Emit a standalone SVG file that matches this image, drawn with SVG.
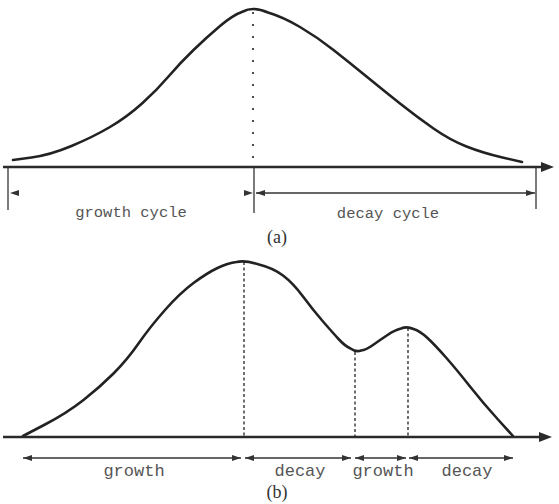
<svg xmlns="http://www.w3.org/2000/svg" width="559" height="504" viewBox="0 0 559 504">
<style>
.curve{fill:none;stroke:#222;stroke-width:2.6;stroke-linecap:round;stroke-linejoin:round}
.axis{fill:none;stroke:#2a2a2a;stroke-width:2.6}
.tick{fill:none;stroke:#333;stroke-width:1.3}
.dim{fill:none;stroke:#333;stroke-width:1.3;marker-start:url(#dh);marker-end:url(#dh)}
.dimbare{fill:none;stroke:none;marker-start:url(#dh);marker-end:url(#dh)}
.dotA{fill:none;stroke:#222;stroke-width:1.6;stroke-dasharray:2 10}
.dotB{fill:none;stroke:#222;stroke-width:1.3;stroke-dasharray:3 2.5}
.lbl{font-family:"Liberation Mono","DejaVu Sans Mono",monospace;fill:#555;text-anchor:middle}
.cap{font-family:"Liberation Serif","DejaVu Serif",serif;fill:#333;font-size:18px;text-anchor:middle}
</style>
<defs>
<marker id="dh" viewBox="0 0 9 6" refX="9" refY="3" markerWidth="9" markerHeight="6" markerUnits="userSpaceOnUse" orient="auto-start-reverse">
<path d="M0,0 L9,3 L0,6 z" fill="#333"/>
</marker>
<marker id="ah" viewBox="0 0 13 10" refX="1" refY="5" markerWidth="13" markerHeight="10" markerUnits="userSpaceOnUse" orient="auto">
<path d="M0,0 L13,5 L0,10 z" fill="#2a2a2a"/>
</marker>
</defs>

<g id="panel-a">
<g id="curve-a">
<path class="curve" d="M13,160 L31.5,157.5 Q50,155 71.5,146 Q93,137 110,127 Q127,117 142,103.5 Q157,90 168.5,76.5 Q180,63 193.5,50 Q207,37 220,26 Q233,15 243,11.5 Q253,6 268,12.5 Q283,17 300,27 Q317,37 333.5,50 Q350,63 366.5,76.5 Q383,90 400,103.5 Q417,117 433.5,128.5 Q450,140 466.5,146.5 Q483,153 502.5,157.5 L522,162"/>
</g>
<g id="connectors-a">
<line class="axis" x1="3" y1="167" x2="542" y2="167" marker-end="url(#ah)"/>
<line class="dotA" x1="253" y1="12" x2="253" y2="166"/>
<line class="tick" x1="8" y1="167" x2="8" y2="210"/>
<line class="tick" x1="254" y1="167" x2="254" y2="213"/>
<line class="tick" x1="536" y1="167" x2="536" y2="209"/>
<line class="dimbare" x1="10" y1="193" x2="253" y2="193"/>
<line class="dim" x1="256" y1="193" x2="535" y2="193"/>
</g>
<g id="labels-a">
<text class="lbl" x="131" y="217" font-size="15.5">growth cycle</text>
<text class="lbl" x="388" y="218" font-size="15.5">decay cycle</text>
<text class="cap" x="277" y="243">(a)</text>
</g>
</g>

<g id="panel-b">
<g id="curve-b">
<path class="curve" d="M23,436 L45,424.5 Q67,413 83.5,400 Q100,387 113.5,373.5 Q127,360 138.5,343.5 Q150,327 165,310 Q180,293 193.5,283 Q207,273 217.5,268 Q228,263 236.5,262 Q245,260 259,264.5 Q273,268 283,275.5 Q293,283 303,296.5 Q313,310 323,321.5 Q333,333 339,339.5 Q345,346 350.5,348.5 Q356,352.5 361,350.5 Q366,350 373,345 Q380,340 387.5,335 Q395,330 401,328.5 Q407,326 413.5,329 Q420,331 427.5,338 Q435,345 446,357.5 Q457,370 470,386.5 Q483,403 498,419.5 L513,436"/>
</g>
<g id="connectors-b">
<line class="axis" x1="3" y1="437" x2="540" y2="437" marker-end="url(#ah)"/>
<line class="dotB" x1="244" y1="262" x2="244" y2="436"/>
<line class="dotB" x1="355" y1="352" x2="355" y2="436"/>
<line class="dotB" x1="408" y1="328" x2="408" y2="436"/>
<line class="dim" x1="23" y1="458" x2="241" y2="458"/>
<line class="dim" x1="245" y1="458" x2="351" y2="458"/>
<line class="dim" x1="355" y1="458" x2="406" y2="458"/>
<line class="dim" x1="409" y1="458" x2="513" y2="458"/>
</g>
<g id="labels-b">
<text class="lbl" x="134" y="476" font-size="17">growth</text>
<text class="lbl" x="300" y="476" font-size="17">decay</text>
<text class="lbl" x="383" y="476" font-size="17">growth</text>
<text class="lbl" x="467" y="476" font-size="17">decay</text>
<text class="cap" x="277" y="498">(b)</text>
</g>
</g>
</svg>
